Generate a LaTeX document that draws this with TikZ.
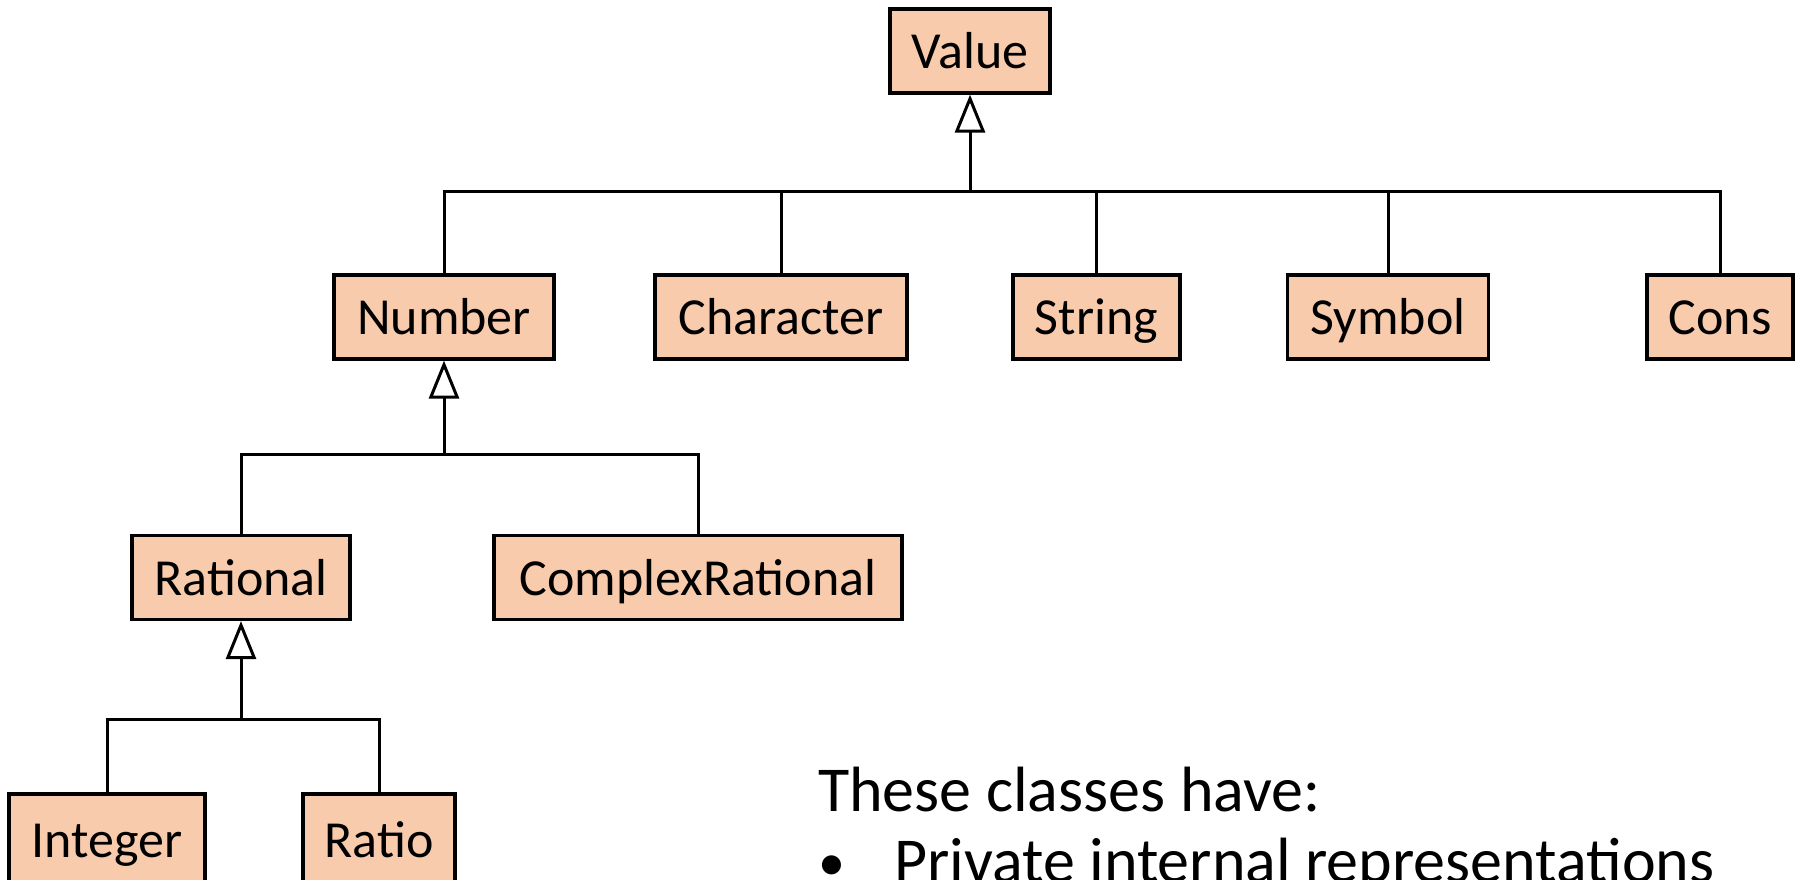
\documentclass[tikz,border=0pt]{standalone}
\usepackage{fontspec}
\setmainfont{Carlito}
\usetikzlibrary{arrows.meta}
\definecolor{peach}{HTML}{F8CBAD}
\begin{document}
\begin{tikzpicture}[x=1pt,y=-1pt,
  cls/.style={draw=black, fill=peach, line width=3.2pt, inner sep=0pt,
    minimum height=84pt, text height=35pt, text depth=0pt,
    font=\fontsize{52}{60}\selectfont},
  conn/.style={line width=3pt, draw=black},
  inh/.style={conn, -{Triangle[open, length=38pt, width=30pt, line width=3pt]}},
  body/.style={anchor=base west, inner sep=0pt, font=\fontsize{64}{72}\selectfont}]
\useasboundingbox (0,0) rectangle (1801,879);
\clip (0,0) rectangle (1801,879);
% classes
\node[cls, minimum width=160pt] (value) at (970,51) {Value};
\node[cls, minimum width=220pt] (number) at (444,317) {Number};
\node[cls, minimum width=252pt] (character) at (781,317) {Character};
\node[cls, minimum width=167pt] (string) at (1096.5,317) {String};
\node[cls, minimum width=201pt] (symbol) at (1388,317) {Symbol};
\node[cls, minimum width=146pt] (cons) at (1720,317) {Cons};
\node[cls, minimum width=218pt] (rational) at (241,577.5) {Rational};
\node[cls, minimum width=408pt] (complex) at (698,577.5) {ComplexRational};
\node[cls, minimum width=196pt, minimum height=92pt] (integer) at (107,840) {Integer};
\node[cls, minimum width=152pt, minimum height=92pt] (ratio) at (379,840) {Ratio};
% junctions
\coordinate (j1) at (970,191);
\coordinate (j2) at (444,454);
\coordinate (j3) at (241,719);
% level 1
\draw[inh] (j1) -- (value.south);
\draw[conn] (number.north) |- (j1) -| (cons.north);
\draw[conn] (character.north) -- (character.north |- j1);
\draw[conn] (string.north) -- (string.north |- j1);
\draw[conn] (symbol.north) -- (symbol.north |- j1);
% level 2
\draw[inh] (j2) -- (number.south);
\draw[conn] (rational.north) |- (j2) -| (complex.north);
% level 3
\draw[inh] (j3) -- (rational.south);
\draw[conn] (integer.north) |- (j3) -| (ratio.north);
% text
\node[body] (t1) at (818,811) {These classes have:};
\node[body, font=\fontsize{54}{60}\selectfont] (b1) at (818,880) {•};
\node[body] (t2) at (894,882) {Private internal representations};
\end{tikzpicture}
\end{document}
